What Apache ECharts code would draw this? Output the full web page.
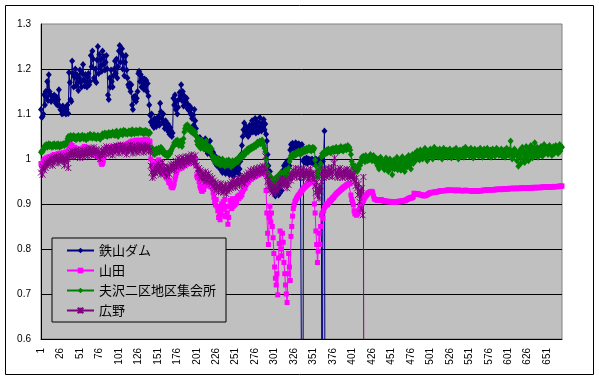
<!DOCTYPE html>
<html><head><meta charset="utf-8">
<script src="https://cdn.jsdelivr.net/npm/echarts@6/dist/echarts.min.js"></script>
<style>html,body{margin:0;padding:0;background:#fff}#c{width:599px;height:380px}</style>
</head><body><div id="c"></div>
<script>
const seriesNames = ['鉄山ダム', '山田', '夫沢二区地区集会所', '広野'];
const categories = Array.from({length: 670}, (_, i) => String(i + 1));
const yTicks = [0.6, 0.7, 0.8, 0.9, 1, 1.1, 1.2, 1.3];

const tetsuyama = [
1.110,1.092,1.095,1.100,1.143,1.120,1.150,1.138,1.172,1.130,
1.187,1.150,1.142,1.128,1.140,1.132,1.136,1.142,1.130,1.124,
1.138,1.120,1.132,1.154,1.118,1.110,1.108,1.100,1.118,1.102,
1.106,1.114,1.100,1.110,1.120,1.101,1.192,1.170,1.132,1.128,
1.218,1.190,1.160,1.182,1.200,1.162,1.188,1.170,1.152,1.180,
1.198,1.170,1.160,1.190,1.210,1.176,1.162,1.188,1.170,1.160,
1.182,1.190,1.165,1.172,1.230,1.205,1.240,1.222,1.180,1.175,
1.200,1.170,1.220,1.250,1.190,1.232,1.205,1.222,1.195,1.240,
1.210,1.228,1.198,1.215,1.230,1.200,1.142,1.132,1.180,1.160,
1.198,1.172,1.160,1.185,1.200,1.218,1.190,1.222,1.180,1.205,
1.240,1.252,1.215,1.235,1.245,1.200,1.228,1.185,1.215,1.230,
1.198,1.180,1.165,1.160,1.168,1.150,1.165,1.120,1.110,1.138,
1.132,1.140,1.128,1.135,1.150,1.190,1.195,1.172,1.188,1.160,
1.180,1.170,1.155,1.178,1.162,1.175,1.150,1.168,1.140,1.120,
1.098,1.082,1.100,1.075,1.085,1.070,1.090,1.078,1.072,1.088,
1.080,1.095,1.075,1.124,1.105,1.090,1.082,1.100,1.078,1.068,
1.085,1.072,1.065,1.078,1.060,1.055,1.070,1.062,1.050,1.058,
1.135,1.120,1.142,1.110,1.128,1.100,1.115,1.132,1.148,1.140,
1.165,1.130,1.150,1.118,1.140,1.122,1.128,1.135,1.112,1.120,
1.108,1.118,1.100,1.112,1.090,1.098,1.075,1.110,1.085,1.068,
1.050,1.040,1.045,1.030,1.048,1.035,1.042,1.028,1.038,1.025,
1.030,1.045,1.020,1.035,1.012,1.028,1.018,1.040,1.010,1.022,
1.005,1.015,0.998,1.008,0.990,1.002,0.985,0.995,0.988,1.000,
0.978,0.992,0.985,0.970,0.982,0.975,0.990,0.968,0.980,0.972,
0.985,0.978,0.965,0.980,0.972,0.988,0.975,0.962,0.978,0.982,
0.970,0.985,0.975,0.990,0.968,0.978,0.995,1.010,1.030,1.050,
1.065,1.080,1.060,1.072,1.055,1.068,1.050,1.062,1.075,1.058,
1.070,1.085,1.060,1.078,1.065,1.090,1.058,1.072,1.082,1.060,
1.068,1.092,1.075,1.062,1.080,1.070,1.088,1.065,1.078,1.055,
1.040,1.010,0.985,0.960,0.972,0.945,0.958,0.930,0.950,0.925,
0.942,0.918,0.935,0.928,0.945,0.920,0.938,0.925,0.942,0.930,
0.965,0.975,0.985,0.978,0.990,0.982,0.995,0.980,0.992,0.985,
1.020,1.032,1.025,1.035,1.028,1.022,1.030,1.036,1.025,1.032,
1.028,1.034,1.022,1.030,1.026,1.032,0,0.995,1.000,0.992,
0.998,1.002,0.990,0.996,1.000,0.994,0.998,0.992,1.000,0.996,
0.990,0.998,0.994,1.000,0.992,0.996,0.990,0.998,1.000,0.995,
1.005,0,0.995,1.010,1.062,0
];

const yamada = [
0.990,0.984,0.988,0.995,0.998,1.000,0.996,1.002,0.998,1.004,
1.000,1.005,1.002,1.006,1.004,1.008,1.005,1.010,1.006,1.008,
1.010,1.007,1.012,1.008,1.010,1.013,1.010,1.012,1.008,1.014,
1.012,1.015,1.010,1.016,1.014,1.018,1.025,1.030,1.032,1.028,
1.030,1.025,1.022,1.026,1.020,1.024,1.018,1.022,1.015,1.020,
1.018,1.022,1.016,1.020,1.025,1.022,1.028,1.024,1.020,1.026,
1.022,1.018,1.024,1.020,1.015,1.022,1.018,1.012,1.016,1.010,
1.014,1.008,1.012,1.006,1.010,1.004,0.998,0.992,0.988,0.990,
0.995,1.005,1.012,1.018,1.022,1.020,1.025,1.018,1.022,1.026,
1.020,1.024,1.028,1.022,1.018,1.025,1.020,1.026,1.030,1.024,
1.028,1.022,1.026,1.030,1.025,1.020,1.026,1.022,1.028,1.032,
1.028,1.034,1.030,1.036,1.032,1.038,1.034,1.040,1.036,1.038,
1.040,1.036,1.042,1.038,1.035,1.040,1.037,1.042,1.038,1.040,
1.036,1.042,1.038,1.040,1.044,1.038,1.042,1.040,1.036,1.040,
1.038,1.000,0.985,0.980,0.988,0.982,0.990,0.986,0.994,0.988,
0.992,0.998,0.990,0.985,0.994,0.988,0.980,0.975,0.968,0.972,
0.965,0.958,0.962,0.955,0.948,0.952,0.945,0.938,0.942,0.936,
0.940,0.945,0.955,0.962,0.970,0.975,0.980,0.984,0.978,0.982,
0.986,0.980,0.988,0.984,0.990,0.986,0.992,0.988,0.994,0.990,
0.996,0.992,0.998,1.000,0.996,1.002,0.998,1.004,1.000,0.985,
0.962,0.958,0.965,0.950,0.940,0.935,0.930,0.928,0.935,0.932,
0.940,0.950,0.955,0.948,0.945,0.952,0.940,0.945,0.938,0.942,
0.935,0.925,0.915,0.905,0.898,0.910,0.895,0.885,0.870,0.880,
0.865,0.890,0.900,0.875,0.905,0.888,0.910,0.872,0.895,0.880,
0.855,0.870,0.895,0.908,0.900,0.890,0.912,0.895,0.905,0.898,
0.910,0.902,0.915,0.918,0.912,0.920,0.916,0.925,0.920,0.928,
0.932,0.938,0.935,0.942,0.945,0.950,0.948,0.952,0.955,0.958,
0.955,0.960,0.958,0.962,0.960,0.965,0.962,0.966,0.964,0.968,
0.966,0.970,0.968,0.972,0.970,0.975,0.972,0.970,0.965,0.930,
0.880,0.835,0.810,0.870,0.895,0.860,0.880,0.850,0.825,0.790,
0.760,0.735,0.720,0.745,0.698,0.780,0.812,0.840,0.800,0.785,
0.835,0.815,0.770,0.745,0.720,0.700,0.681,0.745,0.790,0.760,
0.730,0.828,0.850,0.873,0.890,0.898,0.905,0.908,0.912,0.915,
0.918,0.920,0.922,0.925,0.928,0.930,0.932,0.935,0.936,0.938,
0.940,0.941,0.943,0.944,0.946,0.947,0.948,0.950,0.950,0.952,
0.952,0.900,0.880,0.840,0.810,0.770,0.795,0.835,0.810,0.850,
0.875,0.880,0.868,0.885,0.892,0.895,0.898,0.900,0.898,0.902,
0.905,0.908,0.906,0.910,0.912,0.915,0.914,0.918,0.920,0.922,
0.924,0.925,0.927,0.928,0.930,0.932,0.933,0.935,0.936,0.938,
0.938,0.940,0.942,0.942,0.944,0.945,0.946,0.945,0.920,0.910,
0.905,0.898,0.885,0.878,0.882,0.875,0.880,0.878,0.885,0.888,
0.895,0.898,0.902,0.905,0.908,0.912,0.915,0.918,0.920,0.922,
0.924,0.925,0.926,0.927,0.928,0.928,0.925,0.918,0.912,0.910,
0.910,0.909,0.908,0.910,0.909,0.908,0.909,0.910,0.908,0.907,
0.907,0.906,0.907,0.906,0.905,0.906,0.905,0.906,0.905,0.905,
0.905,0.904,0.905,0.904,0.905,0.905,0.904,0.905,0.905,0.906,
0.906,0.905,0.906,0.907,0.906,0.907,0.908,0.907,0.908,0.909,
0.910,0.911,0.912,0.913,0.914,0.913,0.915,0.914,0.916,0.924,
0.923,0.922,0.923,0.922,0.923,0.922,0.921,0.920,0.921,0.920,
0.919,0.918,0.919,0.918,0.919,0.920,0.921,0.922,0.923,0.924,
0.925,0.925,0.926,0.925,0.926,0.926,0.927,0.926,0.927,0.927,
0.928,0.928,0.929,0.929,0.930,0.929,0.930,0.930,0.929,0.930,
0.930,0.931,0.930,0.931,0.931,0.930,0.931,0.930,0.930,0.931,
0.930,0.931,0.930,0.929,0.930,0.931,0.930,0.931,0.930,0.930,
0.929,0.930,0.929,0.930,0.930,0.931,0.930,0.929,0.930,0.930,
0.930,0.929,0.930,0.929,0.928,0.929,0.930,0.929,0.930,0.930,
0.929,0.928,0.929,0.930,0.929,0.930,0.929,0.930,0.931,0.930,
0.931,0.930,0.931,0.932,0.931,0.932,0.931,0.932,0.932,0.931,
0.932,0.932,0.931,0.932,0.933,0.932,0.933,0.932,0.933,0.933,
0.932,0.933,0.933,0.932,0.933,0.934,0.933,0.934,0.934,0.933,
0.934,0.934,0.935,0.934,0.934,0.935,0.934,0.935,0.935,0.934,
0.935,0.934,0.935,0.935,0.934,0.935,0.935,0.936,0.935,0.935,
0.936,0.935,0.936,0.935,0.935,0.936,0.936,0.935,0.936,0.936,
0.935,0.936,0.937,0.936,0.937,0.936,0.936,0.937,0.937,0.936,
0.937,0.937,0.936,0.937,0.938,0.937,0.938,0.937,0.937,0.938,
0.938,0.937,0.938,0.938,0.937,0.938,0.939,0.938,0.938,0.939,
0.938,0.939,0.939,0.938,0.939,0.939,0.940,0.939,0.940,0.940
];

const ottozawa = [
1.015,1.018,1.016,1.020,1.025,1.030,1.028,1.032,1.026,1.030,
1.034,1.028,1.032,1.030,1.026,1.032,1.028,1.034,1.030,1.027,
1.032,1.028,1.034,1.030,1.026,1.032,1.029,1.033,1.030,1.034,
1.030,1.035,1.032,1.038,1.045,1.050,1.042,1.048,1.052,1.044,
1.050,1.046,1.052,1.045,1.049,1.043,1.050,1.046,1.052,1.047,
1.044,1.050,1.046,1.053,1.048,1.045,1.051,1.047,1.043,1.049,
1.052,1.046,1.050,1.055,1.048,1.052,1.046,1.050,1.054,1.047,
1.051,1.045,1.049,1.053,1.047,1.050,1.044,1.048,1.052,1.056,
1.050,1.054,1.058,1.052,1.056,1.050,1.055,1.059,1.053,1.057,
1.052,1.056,1.060,1.054,1.058,1.052,1.056,1.062,1.055,1.050,
1.054,1.058,1.062,1.056,1.060,1.054,1.064,1.058,1.062,1.056,
1.060,1.055,1.059,1.063,1.057,1.061,1.055,1.065,1.058,1.062,
1.056,1.060,1.064,1.058,1.062,1.057,1.061,1.065,1.059,1.063,
1.058,1.062,1.056,1.060,1.064,1.058,1.062,1.060,1.056,1.060,
1.058,1.025,1.018,1.024,1.012,1.020,1.010,1.016,1.022,1.014,
1.018,1.024,1.015,1.020,1.026,1.018,1.022,1.012,1.016,1.010,
1.014,1.008,1.012,1.006,1.010,1.016,1.012,1.018,1.022,1.026,
1.030,1.036,1.032,1.040,1.034,1.042,1.038,1.030,1.036,1.040,
1.034,1.028,1.036,1.045,1.060,1.068,1.074,1.070,1.076,1.066,
1.072,1.064,1.068,1.060,1.066,1.058,1.062,1.055,1.060,1.052,
1.040,1.032,1.046,1.028,1.038,1.024,1.042,1.030,1.036,1.022,
1.034,1.026,1.040,1.020,1.030,1.024,1.018,1.028,1.014,1.022,
1.006,1.000,0.996,1.004,0.992,0.998,0.990,1.002,0.994,0.988,
0.996,0.986,0.992,1.000,0.988,0.994,0.984,0.990,0.996,0.986,
0.992,0.998,0.988,0.994,0.982,0.990,0.996,0.986,0.994,0.990,
0.998,0.992,1.000,0.994,1.002,1.006,1.000,1.008,1.004,1.010,
1.014,1.008,1.016,1.012,1.018,1.022,1.016,1.024,1.020,1.026,
1.022,1.028,1.024,1.030,1.026,1.032,1.028,1.034,1.038,1.032,
1.036,1.040,1.034,1.038,1.042,1.036,1.030,1.024,1.016,1.000,
0.985,0.970,0.958,0.965,0.950,0.960,0.945,0.955,0.940,0.952,
0.948,0.958,0.942,0.955,0.962,0.950,0.965,0.958,0.970,0.962,
0.968,0.955,0.972,0.960,0.975,0.965,0.958,0.970,0.980,0.995,
1.002,1.008,1.004,1.010,1.006,1.012,1.008,1.014,1.010,1.016,
1.012,1.018,1.014,1.010,1.016,1.020,1.014,1.018,1.022,1.016,
1.020,1.024,1.018,1.022,1.026,1.020,1.024,1.018,1.022,1.026,
1.020,1.024,0.998,0.985,0.970,0.960,0.975,0.965,0.978,0.990,
1.005,1.012,1.008,1.015,1.010,1.018,1.012,1.020,1.014,1.022,
1.016,1.020,1.014,1.022,1.018,1.024,1.016,1.022,1.018,1.026,
1.020,1.016,1.024,1.018,1.022,1.028,1.020,1.024,1.018,1.026,
1.022,1.028,1.020,1.025,1.030,1.022,1.026,1.020,1.010,0.995,
0.988,0.982,0.978,0.985,0.975,0.980,0.972,0.984,0.978,0.990,
0.986,0.998,1.004,0.996,1.006,1.000,0.994,1.008,1.002,0.996,
1.004,0.998,1.006,1.010,1.002,0.996,1.004,1.008,1.000,0.994,
1.002,0.996,0.985,1.000,0.978,0.992,1.004,0.988,0.998,0.982,
0.994,0.976,0.990,1.002,0.984,0.996,0.972,0.988,1.000,0.980,
0.994,0.965,0.986,0.998,0.978,0.992,0.982,1.004,0.976,0.990,
0.985,0.998,0.975,0.992,1.005,0.980,0.996,0.972,0.988,1.002,
0.982,0.995,1.008,0.986,1.000,0.978,0.994,1.010,0.990,1.004,
1.012,0.996,1.008,1.018,1.002,1.014,0.998,1.020,1.006,1.012,
1.000,1.016,1.008,1.024,1.004,1.012,0.996,1.018,1.006,1.014,
1.022,1.008,1.016,1.000,1.012,1.026,1.006,1.018,1.010,1.020,
1.004,1.014,1.022,1.008,1.016,1.000,1.012,1.024,1.006,1.018,
1.010,1.020,1.004,1.016,1.008,1.022,1.012,1.002,1.018,1.010,
1.020,1.006,1.014,1.024,1.008,1.016,1.000,1.012,1.020,1.006,
1.016,1.010,1.022,1.004,1.014,1.026,1.008,1.018,1.010,1.020,
1.006,1.016,1.024,1.010,1.018,1.002,1.014,1.022,1.008,1.016,
1.012,1.020,1.006,1.014,1.024,1.010,1.018,1.004,1.016,1.022,
1.008,1.018,1.012,1.024,1.006,1.016,1.010,1.020,1.004,1.014,
1.022,1.010,1.018,1.006,1.016,1.024,1.012,1.020,1.008,1.016,
1.010,1.022,1.006,1.016,1.012,1.020,1.004,1.014,1.024,1.010,
1.018,1.008,1.020,1.040,1.012,1.000,1.018,1.006,1.022,1.010,
1.016,0.996,1.012,0.984,1.006,1.020,0.990,1.014,1.026,1.000,
1.018,0.992,1.010,1.028,1.004,1.016,0.996,1.022,1.008,1.030,
1.012,1.002,1.024,1.014,1.036,1.008,1.018,1.026,1.004,1.016,
1.022,1.010,1.028,1.014,1.006,1.020,1.032,1.012,1.024,1.016,
1.026,1.010,1.020,1.030,1.014,1.024,1.008,1.020,1.028,1.012,
1.022,1.030,1.016,1.026,1.012,1.024,1.032,1.018,1.028,1.026
];

const hirono = [
0.970,0.978,0.965,0.982,0.975,0.988,0.980,0.992,0.985,0.995,
0.988,0.998,0.990,1.002,0.994,0.985,1.000,0.992,1.004,0.996,
1.006,0.998,0.990,1.004,0.996,1.008,1.000,0.994,1.006,0.998,
0.985,1.002,0.994,1.008,1.000,0.980,1.010,1.004,1.014,1.008,
1.018,1.010,1.004,1.016,1.008,1.020,1.012,1.006,1.018,1.010,
1.002,1.014,1.008,1.020,1.012,1.004,1.016,1.010,1.022,1.014,
1.006,1.018,1.012,1.024,1.016,1.008,1.020,1.014,1.026,1.018,
1.010,1.022,1.014,1.006,1.018,1.010,1.000,1.012,1.020,1.008,
1.016,1.024,1.012,1.020,1.028,1.016,1.024,1.010,1.022,1.014,
1.026,1.018,1.008,1.020,1.028,1.014,1.022,1.030,1.018,1.026,
1.012,1.024,1.032,1.020,1.028,1.014,1.026,1.018,1.030,1.022,
1.010,1.024,1.016,1.028,1.020,1.032,1.018,1.026,1.012,1.024,
1.030,1.018,1.026,1.014,1.028,1.020,1.032,1.016,1.024,1.030,
1.020,1.028,1.014,1.026,1.032,1.018,1.024,1.030,1.016,1.026,
1.020,0.985,0.970,0.958,0.975,0.962,0.980,0.968,0.985,0.972,
0.978,0.990,0.970,0.984,0.965,0.978,0.992,0.972,0.982,0.968,
0.976,0.962,0.984,0.970,0.980,0.966,0.978,0.988,0.974,0.982,
0.990,0.976,0.986,0.996,0.982,0.992,1.002,0.988,0.998,0.984,
0.994,1.004,0.990,1.000,0.986,0.996,1.006,0.992,1.002,0.996,
1.006,0.994,1.002,1.010,0.996,1.004,0.990,1.000,1.008,0.994,
0.986,0.976,0.968,0.980,0.962,0.975,0.958,0.970,0.952,0.966,
0.958,0.972,0.950,0.964,0.955,0.968,0.948,0.962,0.954,0.945,
0.958,0.940,0.952,0.935,0.948,0.930,0.945,0.938,0.926,0.942,
0.932,0.946,0.928,0.940,0.925,0.938,0.930,0.944,0.922,0.936,
0.928,0.942,0.932,0.946,0.935,0.950,0.938,0.955,0.940,0.948,
0.936,0.952,0.944,0.958,0.946,0.940,0.955,0.948,0.962,0.950,
0.958,0.945,0.962,0.952,0.966,0.955,0.970,0.958,0.964,0.975,
0.960,0.972,0.965,0.978,0.962,0.974,0.968,0.980,0.966,0.976,
0.970,0.982,0.968,0.978,0.972,0.985,0.970,0.980,1.006,0.975,
0.962,0.950,0.940,0.955,0.930,0.945,0.935,0.925,0.942,0.930,
0.938,0.922,0.935,0.928,0.945,0.932,0.950,0.938,0.955,0.942,
0.958,0.945,0.952,0.940,0.955,0.946,0.935,0.950,0.942,0.958,
0.965,0.952,0.970,0.958,0.975,0.962,0.968,0.980,0.960,0.972,
0.966,0.978,0.958,0.970,0.962,0.976,0.965,0.980,0.958,0.972,
0.962,0.975,0.968,0.955,0.972,0.960,0.978,0.965,0.970,0.958,
0.968,0.955,0.940,0.925,0.948,0.918,0.935,0.912,0.940,0.928,
0.950,0.962,0.975,0.958,0.968,0.978,0.960,0.972,0.965,0.980,
0.962,0.975,0.968,0.982,0.960,0.972,0.990,1.002,0.975,0.962,
0.970,0.958,0.975,0.965,0.980,0.962,0.972,0.958,0.968,0.976,
0.960,0.972,0.965,0.978,0.958,0.970,0.962,0.975,0.958,0.968,
0.962,0.955,0.968,0.950,0.940,0.958,0.935,0.920,0.945,0.905,
0.930,0.890,0.935,0.875,0.960,0
];

const colors = ['#000080', '#FF00FF', '#008000', '#800080'];
const symbols = ['diamond', 'rect', 'diamond', 'path://M0,0L10,10M10,0L0,10M5,0L5,10'];
const symbolSizes = [[6, 7], 5, [6, 7], 6];
const dataSets = [tetsuyama, yamada, ottozawa, hirono];

const chart = echarts.init(document.getElementById('c'), null, {renderer: 'canvas'});
const series = seriesNames.map((name, i) => ({
  name: name,
  type: 'line',
  data: dataSets[i],
  symbol: symbols[i],
  symbolSize: symbolSizes[i],
  showSymbol: true,
  showAllSymbol: true,
  clip: true,
  sampling: null,
  lineStyle: {color: colors[i], width: 1},
  itemStyle: i === 3 ? {color: 'none', borderColor: colors[i], borderWidth: 1} : {color: colors[i], borderWidth: 0},
  emphasis: {disabled: true},
  animation: false
}));

chart.setOption({
  animation: false,
  backgroundColor: '#ffffff',
  textStyle: {fontFamily: 'Liberation Sans, Arial, sans-serif'},
  graphic: [{
    type: 'rect', left: 5, top: 5, z: -1,
    shape: {width: 588, height: 369},
    style: {fill: '#ffffff', stroke: '#000000', lineWidth: 1}
  }],
  grid: {
    left: 41, right: 37, top: 24, bottom: 41,
    show: true, backgroundColor: '#C0C0C0', borderColor: '#808080', borderWidth: 1
  },
  legend: {
    orient: 'vertical',
    left: 52, top: 238,
    padding: [6, 10, 5, 14],
    itemWidth: 27, itemHeight: 7, itemGap: 7,
    backgroundColor: '#C0C0C0', borderColor: '#000000', borderWidth: 1,
    textStyle: {fontFamily: 'Noto Sans CJK JP', fontSize: 13, lineHeight: 13, color: '#000'},
    data: seriesNames
  },
  xAxis: {
    type: 'category',
    data: categories,
    boundaryGap: false,
    axisLine: {show: true, lineStyle: {color: '#000', width: 1}},
    axisTick: {show: false},
    axisLabel: {interval: 24, rotate: 90, fontSize: 10, color: '#000', margin: 9, fontFamily: 'Liberation Sans'},
    splitLine: {show: false}
  },
  yAxis: {
    type: 'value',
    min: yTicks[0], max: yTicks[yTicks.length - 1], interval: 0.1,
    axisLine: {show: true, lineStyle: {color: '#000', width: 1}},
    axisTick: {show: false},
    axisLabel: {fontSize: 10, color: '#000', margin: 10, fontFamily: 'Liberation Sans',
      formatter: v => String(Math.round(v * 10) / 10)},
    splitLine: {show: true, showMaxLine: false, lineStyle: {color: '#000', width: 1}}
  },
  series: series
});
</script>
</body></html>
